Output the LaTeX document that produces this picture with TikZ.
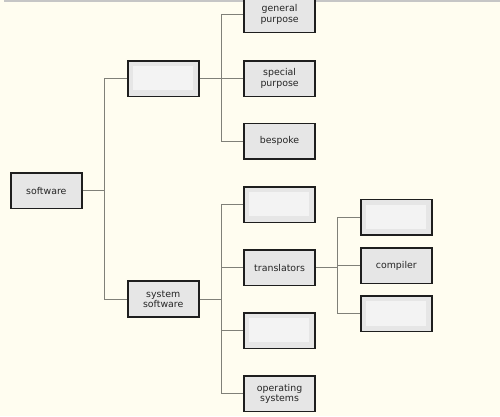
\documentclass[tikz,border=0pt]{standalone}
\usepackage{fontspec}
\setmainfont{DejaVu Sans}
\usetikzlibrary{positioning,calc}
\definecolor{papercol}{RGB}{255,253,240}
\definecolor{boxfill}{RGB}{230,230,230}
\definecolor{boxinner}{RGB}{243,243,243}
\definecolor{boxline}{RGB}{30,30,30}
\definecolor{linkcol}{RGB}{128,128,120}
\tikzset{
  catbox/.style={draw=boxline, fill=boxfill, line width=1.6pt, minimum width=71pt,
    minimum height=35.6pt, inner sep=0pt, align=center, text=black!85,
    font=\fontsize{9.4}{10.2}\selectfont},
  blankbox/.style={catbox, path picture={
    \fill[boxinner] ([shift={(5pt,-5pt)}]path picture bounding box.north west)
      rectangle ([shift={(-6pt,6pt)}]path picture bounding box.south east);}},
  linkln/.style={draw=linkcol, line width=0.9pt},
}

\begin{document}
\begin{tikzpicture}[x=1pt,y=-1pt]
    \fill[papercol] (0,0) rectangle (500,416);
    \useasboundingbox (0,0) rectangle (500,416);
    \draw[gray!45, line width=1.5pt] (4,0.8) -- (500,0.8);
    % root and second level
    \node[catbox] (sw) at (46.3,190.7) {software};
    \node[blankbox] (app) at (163.2,78.5) {};
    \node[catbox] (sys) at (163.2,299) {system\\software};
    % third level, application side
    \node[catbox] (gen) at (279.6,14.5) {general\\purpose};
    \node[catbox] (spec) at (279.6,78.5) {special\\purpose};
    \node[catbox] (besp) at (279.6,141.3) {bespoke};
    % third level, system side
    \node[blankbox] (util) at (279.6,204.5) {};
    \node[catbox] (trans) at (279.6,267.5) {translators};
    \node[blankbox] (lib) at (279.6,330.5) {};
    \node[catbox] (os) at (279.6,393.7) {operating\\systems};
    % fourth level
    \node[blankbox] (asm) at (396.3,217.3) {};
    \node[catbox] (comp) at (396.3,265.7) {compiler};
    \node[blankbox] (interp) at (396.3,313.8) {};
    % connectors
    \coordinate (j1) at (104.5,190.7);
    \draw[linkln] (sw.east) -- (j1);
    \draw[linkln] (j1) |- (app.west);
    \draw[linkln] (j1) |- (sys.west);
    \coordinate (j2) at (221,78.5);
    \draw[linkln] (app.east) -- (j2);
    \foreach \kid in {gen,spec,besp}
      \draw[linkln] (j2) |- (\kid.west);
    \coordinate (j3) at (221,299);
    \draw[linkln] (sys.east) -- (j3);
    \foreach \kid in {util,trans,lib,os}
      \draw[linkln] (j3) |- (\kid.west);
    \coordinate (j4) at (337.7,267.5);
    \draw[linkln] (trans.east) -- (j4);
    \foreach \kid in {asm,comp,interp}
      \draw[linkln] (j4) |- (\kid.west);
\end{tikzpicture}
\end{document}
